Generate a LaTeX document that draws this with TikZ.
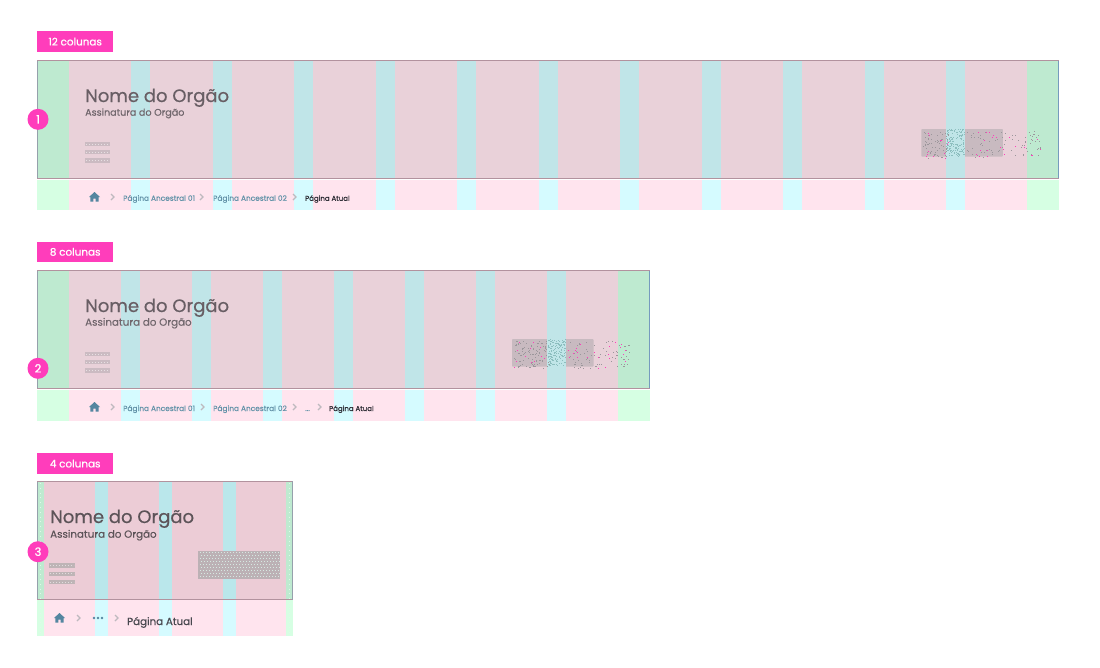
\documentclass[tikz,border=0pt]{standalone}
\usepackage{fontspec}
\setmainfont{Poppins}
\newcommand{\fk}[2]{\fontsize{#1}{#1}\selectfont\addfontfeature{FakeBold=#2}}
\definecolor{tagpink}{RGB}{255,61,187}
\definecolor{hpink}{RGB}{233,209,217}
\definecolor{hcyan}{RGB}{192,229,232}
\definecolor{hgreen}{RGB}{190,234,208}
\definecolor{spink}{RGB}{255,228,238}
\definecolor{scyan}{RGB}{213,251,255}
\definecolor{sgreen}{RGB}{214,255,227}
\definecolor{hpinkb}{RGB}{236,204,214}
\definecolor{hcyanb}{RGB}{186,231,235}
\definecolor{edgeblue}{RGB}{118,155,190}
\definecolor{edgegray}{RGB}{150,160,172}
\definecolor{edgepink}{RGB}{178,146,158}
\definecolor{titlec}{RGB}{104,94,100}
\definecolor{subc}{RGB}{112,102,108}
\definecolor{crumbc}{RGB}{98,146,168}
\definecolor{chevc}{RGB}{190,185,190}
\definecolor{darkt}{RGB}{40,40,48}
\definecolor{homec}{RGB}{84,134,160}
\definecolor{menuc}{RGB}{203,187,194}
\definecolor{blobc}{RGB}{200,186,192}
\definecolor{blobg}{RGB}{155,150,155}
\definecolor{blobt}{RGB}{140,190,190}
\definecolor{blobn}{RGB}{188,177,181}
\definecolor{blobl}{RGB}{214,232,226}
\tikzset{
  tagbox/.style={fill=tagpink,text=white,minimum width=76pt,minimum height=20.4pt,inner sep=0pt,font=\fk{10.4}{0.6},anchor=north west},
  badge/.style={circle,fill=tagpink,text=white,minimum size=21pt,inner sep=0pt,font=\fk{11.5}{0.8}},
  title/.style={anchor=base west,inner sep=0pt,text=titlec,font=\fk{18}{0.5}},
  subt/.style={anchor=base west,inner sep=0pt,text=subc,font=\fk{9.6}{0.4}},
  crumb/.style={anchor=base west,inner sep=0pt,text=crumbc,font=\fk{7.4}{0.1}},
  current/.style={anchor=base west,inner sep=0pt,text=darkt,font=\fk{7}{0.4}},
  chevron/.style={draw=chevc,line width=1.1pt,line join=miter},
}
\newcommand{\chev}[2]{%
  \draw[chevron] (#1-2,#2-3) -- (#1+1,#2) -- (#1-2,#2+3);}
\newcommand{\homeic}[3]{% x left, y top, scale
  \begin{scope}[shift={(#1,#2)},scale=#3]
    \fill[homec] (0,5) -- (5.5,0) -- (11,5) -- (9.6,5) -- (9.6,9.5) -- (6.6,9.5) -- (6.6,6.5) -- (4.4,6.5) -- (4.4,9.5) -- (1.4,9.5) -- (1.4,5) -- cycle;
  \end{scope}}
\newcommand{\menulines}[3]{% x0, x1, y top
  \foreach \d in {0,8.2,16.5}{
    \fill[menuc] (#1,#3+\d) rectangle (#2,#3+\d+4.2);
    \draw[white,opacity=.55,line width=.7pt,dash pattern=on .7pt off 2.3pt] (#1+1,#3+\d+2.1) -- (#2-1,#3+\d+2.1);
  }}
\newcommand{\speck}[6]{% x0 y0 x1 y1 n colour
  \foreach \i in {1,...,#5}{
    \pgfmathsetmacro\sx{#1+rnd*(#3-#1-1)}
    \pgfmathsetmacro\sy{#2+rnd*(#4-#2-1)}
    \fill[#6] (\sx,\sy) rectangle (\sx+1,\sy+1);
  }}
\newcommand{\stipple}[4]{% left, cyan left, top, tag colour section
  \fill[blobc,rounded corners=.8pt] (#1,#3) rectangle (#1+81.5,#3+27.7);
  \fill[hcyan] (#2,#3) rectangle (#2+19,#3+27.7);
  \speck{#2}{#3}{#2+19}{#3+27.7}{150}{blobt}
  \speck{#1+2}{#3+2}{#2-1}{#3+26}{#4}{blobg}
  \speck{#2+20}{#3+2}{#1+80}{#3+26}{75}{blobg}
  \speck{#1+2}{#3+2}{#2-1}{#3+26}{12}{tagpink}
  \speck{#2+20}{#3+2}{#1+80}{#3+26}{22}{tagpink}
}
\begin{document}
\begin{tikzpicture}[x=1pt,y=-1pt]
\pgfmathsetseed{4242}
\useasboundingbox (0,0) rectangle (1100,667);
\fill[white] (0,0) rectangle (1100,667);

% ---------- panel 1 : 12 columns
\fill[hpink] (37,60) rectangle (1059,178.5);
\fill[spink] (37,180) rectangle (1059,210);
\fill[hgreen] (37,60) rectangle (69,178.5);
\fill[hgreen] (1027,60) rectangle (1059,178.5);
\fill[sgreen] (37,180) rectangle (69,210);
\fill[sgreen] (1027,180) rectangle (1059,210);
\foreach \k in {0,...,10}{
  \pgfmathsetmacro\cx{131+81.5*\k}
  \fill[hcyan] (\cx,60) rectangle (\cx+19,178.5);
  \fill[scyan] (\cx,180) rectangle (\cx+19,210);
}
\draw[edgeblue,line width=0.8pt] (1058.6,60) -- (1058.6,178.5);
\draw[edgegray,line width=0.8pt] (37,60) -- (37,178.5);
\draw[edgepink,line width=0.8pt] (37,60) -- (1058.6,60) (37,178.5) -- (1058.6,178.5);

% ---------- panel 2 : 8 columns
\fill[hpink] (37,270) rectangle (650,388.5);
\fill[spink] (37,390) rectangle (650,421);
\fill[hgreen] (37,270) rectangle (69,388.5);
\fill[hgreen] (618,270) rectangle (650,388.5);
\fill[sgreen] (37,390) rectangle (69,421);
\fill[sgreen] (618,390) rectangle (650,421);
\foreach \k in {0,...,6}{
  \pgfmathsetmacro\cx{120.7+71.1*\k}
  \fill[hcyan] (\cx,270) rectangle (\cx+19,388.5);
  \fill[scyan] (\cx,390) rectangle (\cx+19,421);
}
\draw[edgeblue,line width=0.8pt] (649.6,270) -- (649.6,388.5);
\draw[edgegray,line width=0.8pt] (37,270) -- (37,388.5);
\draw[edgepink,line width=0.8pt] (37,270) -- (649.6,270) (37,388.5) -- (649.6,388.5);

% ---------- panel 3 : 4 columns
\fill[hpinkb] (37,481) rectangle (292.5,599.5);
\fill[spink] (37,600) rectangle (292.5,636);
\fill[hgreen] (37,481) rectangle (43.5,599.5);
\fill[hgreen] (286.3,481) rectangle (292.5,599.5);
\fill[sgreen] (37,600) rectangle (43.5,636);
\fill[sgreen] (286.3,600) rectangle (292.5,636);
\foreach \cx in {95,159,222.7}{
  \fill[hcyanb] (\cx,481) rectangle (\cx+13,599.5);
  \fill[scyan] (\cx,600) rectangle (\cx+13,636);
}
\foreach \mx in {40.3,289.4}
  \draw[white!55!hgreen,line width=.8pt,dash pattern=on .8pt off 4pt] (\mx,483) -- (\mx,635);
\draw[edgegray,line width=0.8pt] (37,481) -- (37,599.5) (292.3,481) -- (292.3,599.5);
\draw[edgepink,line width=0.8pt] (37,481) -- (292.3,481) (37,599.5) -- (292.3,599.5);

% ---------- blobs
\stipple{921.3}{946}{129}{60}
\stipple{512}{547.3}{339}{100}
\fill[blobn] (198,550.5) rectangle (280,578.7);
\foreach \gx in {0,...,26}
  \foreach \gy in {0,...,8}{
    \pgfmathsetmacro\px{199.5+3*\gx+1.5*mod(\gy,2)}
    \pgfmathsetmacro\py{552+3*\gy}
    \fill[blobl] (\px,\py) rectangle (\px+1,\py+1);
  }

% ---------- menu lines
\menulines{85}{110}{141.8}
\menulines{85}{110}{351.8}
\begin{scope}
\definecolor{menuc}{RGB}{190,180,182}
\menulines{49}{75}{563.3}
\end{scope}

% ---------- tags and badges
\node[tagbox] (tag12) at (37,31.2) {12 colunas};
\node[tagbox] (tag8) at (37,241.5) {8 colunas};
\node[tagbox] (tag4) at (37,453.2) {4 colunas};
\node[badge] (b1) at (38,119.3) {1};
\node[badge] (b2) at (38,368.3) {2};
\node[badge] (b3) at (38,551.7) {3};

% ---------- titles
\node[title] (t1) at (85,102) {Nome do Orgão};
\node[subt] (s1) at (85,115.7) {Assinatura do Orgão};
\node[title] (t2) at (85,312) {Nome do Orgão};
\node[subt,font=\fk{10.3}{0.25}] (s2) at (85,325.7) {Assinatura do Orgão};
\node[title,text=titlec!88!black] (t3) at (50,523) {Nome do Orgão};
\node[subt,font=\fk{10.3}{0.25},text=titlec!88!black] (s3) at (50,537.7) {Assinatura do Orgão};

% ---------- breadcrumbs
\homeic{89}{192}{1}
\chev{113}{197}
\node[crumb] (c11) at (123,200.8) {Página Ancestral 01};
\chev{202}{197}
\node[crumb] (c12) at (213,200.8) {Página Ancestral 02};
\chev{295}{197}
\node[current] (c13) at (305,200.8) {Página Atual};

\homeic{89}{402}{1}
\chev{113}{407}
\node[crumb] (c21) at (123,411) {Página Ancestral 01};
\chev{203}{407}
\node[crumb] (c22) at (213,411) {Página Ancestral 02};
\chev{295}{407}
\node[crumb] (c2d) at (305,411) {...};
\chev{320}{407}
\node[current] (c23) at (329,411) {Página Atual};

\homeic{54}{613}{1}
\chev{79}{618}
\foreach \x in {94,98,102} \fill[homec] (\x,618) circle (1.4);
\chev{117}{618}
\node[current,font=\fk{10.3}{0.5},text=darkt!85!white] (c33) at (127,625) {Página Atual};
\end{tikzpicture}
\end{document}
